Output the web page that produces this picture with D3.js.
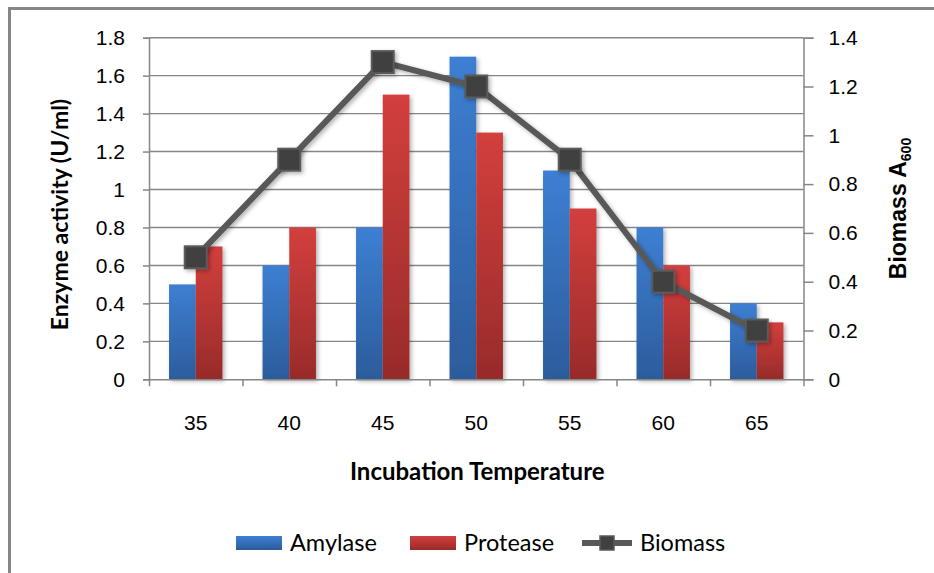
<!DOCTYPE html>
<html lang="en">
<head>
<meta charset="UTF-8">
<title>Enzyme activity and biomass vs incubation temperature</title>
<script src="https://d3js.org/d3.v7.min.js"></script>
<style>
  body { margin: 0; background: #fff; }
  svg { display: block; font-family: Lato, "Open Sans", sans-serif; }
  .tick text { font-size: 21px; fill: #000; }
  .axis path, .axis line { stroke: #868686; stroke-width: 1.5; }
</style>
</head>
<body>
<svg width="934" height="573"></svg>
<script>
// data
var temps = ["35", "40", "45", "50", "55", "60", "65"];
var amylase = [0.5, 0.6, 0.8, 1.7, 1.1, 0.8, 0.4];
var protease = [0.7, 0.8, 1.5, 1.3, 0.9, 0.6, 0.3];
var biomass = [0.5, 0.9, 1.3, 1.2, 0.9, 0.4, 0.2];
var leftTicks = [0, 0.2, 0.4, 0.6, 0.8, 1, 1.2, 1.4, 1.6, 1.8];
var rightTicks = [0, 0.2, 0.4, 0.6, 0.8, 1, 1.2, 1.4];

var svg = d3.select("svg");
var plotL = 149, plotR = 803.5, plotT = 37.7, plotB = 379.3;

var defs = svg.append("defs");
function vgrad(id, top, bottom) {
    var g = defs.append("linearGradient").attr("id", id)
        .attr("x1", "0%").attr("y1", "0%").attr("x2", "0%").attr("y2", "100%");
    g.append("stop").attr("offset", "0%").attr("stop-color", top);
    g.append("stop").attr("offset", "100%").attr("stop-color", bottom);
}
vgrad("blueGrad", "#3d7fd3", "#2c5c9b");
vgrad("redGrad", "#d33f3d", "#982b2a");

var shadow = defs.append("filter").attr("id", "shadow")
    .attr("x", "-30%").attr("y", "-30%").attr("width", "170%").attr("height", "170%");
shadow.append("feDropShadow").attr("dx", 2).attr("dy", 2)
    .attr("stdDeviation", 2).attr("flood-color", "#000").attr("flood-opacity", 0.3);

// outer frame (cropped on right and bottom)
svg.append("rect")
    .attr("x", 9.5).attr("y", 8.5).attr("width", 960).attr("height", 600)
    .attr("fill", "none").attr("stroke", "#868686").attr("stroke-width", 3);

var x = d3.scaleBand().domain(temps).range([plotL, plotR]);
var xEdge = d3.scaleLinear().domain([0, temps.length]).range([plotL, plotR]);
var yL = d3.scaleLinear().domain([0, 1.8]).range([plotB, plotT]);
var yR = d3.scaleLinear().domain([0, 1.4]).range([plotB, plotT]);
var barW = x.bandwidth() / 3.5;
var fmt = function(d) { return String(+d.toFixed(1)); };

// gridlines
svg.append("g").selectAll("line")
    .data(leftTicks.filter(function(d) { return d > 0; }))
    .join("line")
    .attr("x1", plotL).attr("x2", plotR)
    .attr("y1", function(d) { return yL(d); })
    .attr("y2", function(d) { return yL(d); })
    .attr("stroke", "#868686").attr("stroke-width", 1.4);

// bars
var cx = function(i) { return x(temps[i]) + x.bandwidth() / 2; };
svg.append("g").selectAll("rect")
    .data(amylase).join("rect")
    .attr("x", function(d, i) { return cx(i) - barW; })
    .attr("y", function(d) { return yL(d); })
    .attr("width", barW)
    .attr("height", function(d) { return plotB - yL(d); })
    .attr("fill", "url(#blueGrad)")
    .attr("filter", "url(#shadow)");
svg.append("g").selectAll("rect")
    .data(protease).join("rect")
    .attr("x", function(d, i) { return cx(i); })
    .attr("y", function(d) { return yL(d); })
    .attr("width", barW)
    .attr("height", function(d) { return plotB - yL(d); })
    .attr("fill", "url(#redGrad)")
    .attr("filter", "url(#shadow)");

// axes
svg.append("g").attr("class", "axis")
    .attr("transform", "translate(" + plotL + ",0)")
    .call(d3.axisLeft(yL).tickValues(leftTicks).tickSize(6).tickPadding(18).tickFormat(fmt));
svg.append("g").attr("class", "axis")
    .attr("transform", "translate(" + plotR + ",0)")
    .call(d3.axisRight(yR).tickValues(rightTicks).tickSize(10).tickPadding(15).tickFormat(fmt));
svg.append("g").attr("class", "axis")
    .attr("transform", "translate(0," + plotB + ")")
    .call(d3.axisBottom(xEdge).ticks(temps.length).tickSize(7).tickFormat("").tickSizeOuter(0));
var xLab = svg.append("g").attr("class", "axis")
    .attr("transform", "translate(0," + plotB + ")")
    .call(d3.axisBottom(x).tickSize(0).tickPadding(36));
xLab.select(".domain").remove();

// biomass line
var line = d3.line()
    .x(function(d, i) { return cx(i); })
    .y(function(d) { return yR(d); });
svg.append("path").datum(biomass)
    .attr("d", line)
    .attr("fill", "none").attr("stroke", "#595959").attr("stroke-width", 6)
    .attr("filter", "url(#shadow)");
svg.append("g").selectAll("rect")
    .data(biomass).join("rect")
    .attr("x", function(d, i) { return cx(i) - 11; })
    .attr("y", function(d) { return yR(d) - 11; })
    .attr("width", 22).attr("height", 22)
    .attr("fill", "#404040").attr("stroke", "#5a5a5a").attr("stroke-width", 2)
    .attr("filter", "url(#shadow)");

// titles
svg.append("text")
    .attr("transform", "translate(68," + ((plotT + plotB) / 2 + 6) + ") rotate(-90)")
    .attr("text-anchor", "middle")
    .style("font-size", "23px").style("font-weight", "bold")
    .text("Enzyme activity (U/ml)");
svg.append("text")
    .attr("x", (plotL + plotR) / 2 + 1).attr("y", 480)
    .attr("text-anchor", "middle")
    .style("font-size", "24px").style("font-weight", "bold")
    .text("Incubation Temperature");
var rt = svg.append("text")
    .attr("transform", "translate(906," + ((plotT + plotB) / 2) + ") rotate(-90)")
    .attr("text-anchor", "middle")
    .style("font-family", "'Liberation Sans', Arial, sans-serif")
    .style("font-size", "23px").style("font-weight", "bold");
rt.append("tspan").text("Biomass A");
rt.append("tspan").attr("dy", 5).style("font-size", "14px").text("600");

// legend
var leg = svg.append("g").attr("transform", "translate(0,543)");
var items = [
    { name: "Amylase", fill: "url(#blueGrad)", x: 236 },
    { name: "Protease", fill: "url(#redGrad)", x: 410 },
    { name: "Biomass", fill: null, x: 582 }
];
items.forEach(function(it) {
    if (it.fill) {
        leg.append("rect").attr("x", it.x).attr("y", -7).attr("width", 46).attr("height", 14)
            .attr("fill", it.fill);
    } else {
        leg.append("line").attr("x1", it.x).attr("x2", it.x + 50).attr("y1", 0).attr("y2", 0)
            .attr("stroke", "#595959").attr("stroke-width", 6);
        leg.append("rect").attr("x", it.x + 18).attr("y", -7).attr("width", 14).attr("height", 14)
            .attr("fill", "#404040").attr("stroke", "#5a5a5a").attr("stroke-width", 1.5);
    }
    leg.append("text").attr("x", it.x + (it.fill ? 54 : 58)).attr("y", 8)
        .style("font-size", "23.5px").text(it.name);
});
</script>
</body>
</html>
